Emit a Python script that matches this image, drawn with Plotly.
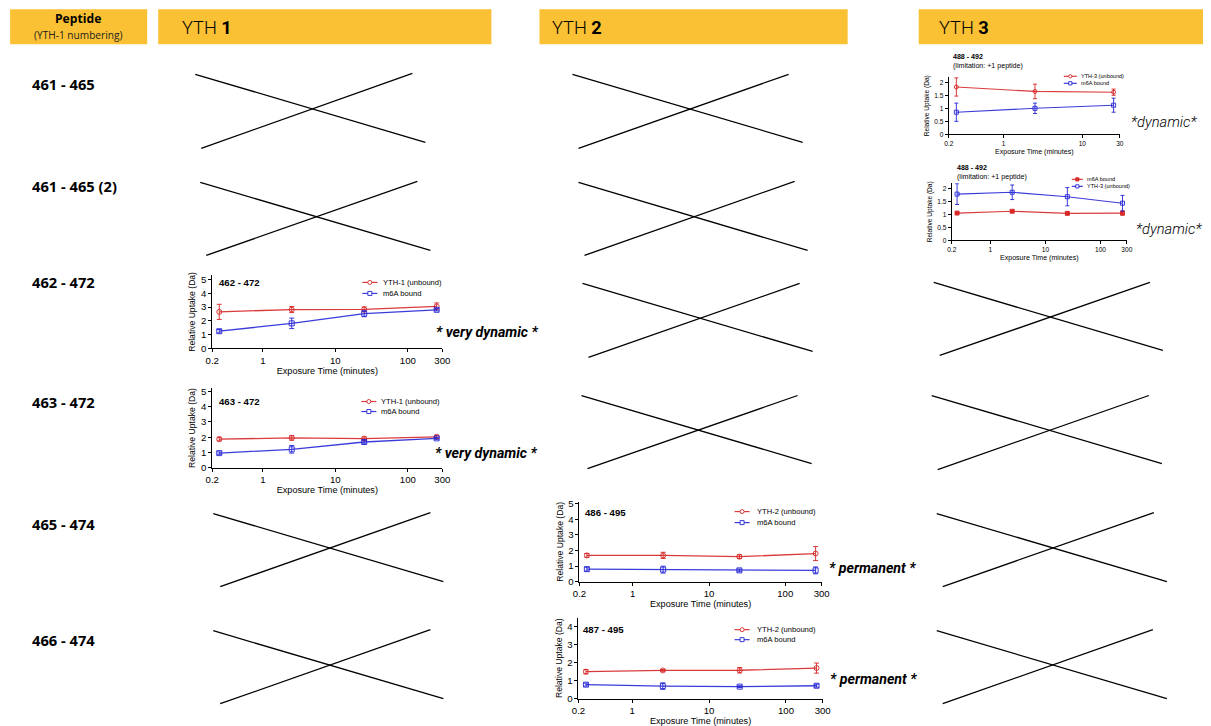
import math
import plotly.graph_objects as go

W, H = 1211, 726

# Layout positions below are given in final image pixels; the page is shown
# with an 8px body margin and scaled to the window width, so positions are
# converted into figure pixels with the same scale and offset.
SCALE = 1211 / 1227
BODY = 8
CROP_Y = 3.15

# ---------------- data ----------------
columns = ["YTH <b>1</b>", "YTH <b>2</b>", "YTH <b>3</b>"]
peptides = ["461 - 465", "461 - 465 (2)", "462 - 472", "463 - 472", "465 - 474", "466 - 474"]

times = [0.25, 2.5, 25, 250]
times_short = [0.25, 2.5, 25]

# YTH1 462-472
y1_462_unbound = [2.65, 2.82, 2.83, 3.05]
y1_462_unbound_sd = [0.55, 0.22, 0.18, 0.25]
y1_462_bound = [1.25, 1.82, 2.52, 2.80]
y1_462_bound_sd = [0.12, 0.38, 0.22, 0.08]

# YTH1 463-472
y1_463_unbound = [1.87, 1.95, 1.90, 2.02]
y1_463_unbound_sd = [0.12, 0.15, 0.12, 0.10]
y1_463_bound = [0.95, 1.20, 1.68, 1.92]
y1_463_bound_sd = [0.08, 0.25, 0.12, 0.06]

# YTH2 486-495
y2_486_unbound = [1.68, 1.68, 1.60, 1.80]
y2_486_unbound_sd = [0.12, 0.20, 0.12, 0.45]
y2_486_bound = [0.80, 0.77, 0.72, 0.72]
y2_486_bound_sd = [0.12, 0.22, 0.08, 0.22]

# YTH2 487-495
y2_487_unbound = [1.50, 1.57, 1.58, 1.70]
y2_487_unbound_sd = [0.12, 0.05, 0.15, 0.28]
y2_487_bound = [0.78, 0.70, 0.67, 0.72]
y2_487_bound_sd = [0.08, 0.18, 0.05, 0.08]

# YTH3 488-492 (first set, 3 time points)
y3_488a_unbound = [1.82, 1.65, 1.62]
y3_488a_unbound_sd = [0.35, 0.28, 0.12]
y3_488a_bound = [0.85, 1.00, 1.12]
y3_488a_bound_sd = [0.35, 0.20, 0.27]

# YTH3 488-492 (second set)
y3_488b_bound = [1.05, 1.12, 1.04, 1.05]
y3_488b_bound_sd = [0.02, 0.04, 0.05, 0.08]
y3_488b_unbound = [1.78, 1.85, 1.68, 1.43]
y3_488b_unbound_sd = [0.40, 0.28, 0.35, 0.30]

statuses = ["* very dynamic *", "* very dynamic *", "* permanent *", "* permanent *", "*dynamic*", "*dynamic*"]

# ---------------- helpers ----------------
def px(x):
    return min(max((x / SCALE - BODY) / W, 0), 1)


def py(y):
    return min(max(1 - ((y + CROP_Y) / SCALE - BODY) / H, 0), 1)


def fs(v):
    return v / SCALE


def note(text, x, y, size, family, xanchor="left", weight=None, color="black"):
    font = dict(family=family, size=fs(size), color=color)
    if weight is not None:
        font["weight"] = weight
    return dict(text=text, x=px(x), y=py(y), xref="paper", yref="paper",
                xanchor=xanchor, yanchor="middle", showarrow=False, font=font)


RED = "rgba(214,38,38,0.9)"
BLUE = "rgba(38,38,214,0.9)"
TXT = "Liberation Sans, Arial, sans-serif"
ROBO = "Roboto, Arial, sans-serif"
HEAD = "Open Sans, Arial, sans-serif"
YELLOW = "#FBC134"

fig = go.Figure()
shapes = []
annotations = []

# ---------------- header boxes ----------------
header_boxes = [(11, 148), (159, 492), (540, 848), (919, 1211)]
for x0, x1 in header_boxes:
    shapes.append(dict(type="rect", xref="paper", yref="paper",
                       x0=px(x0), x1=px(x1), y0=py(45), y1=py(10),
                       fillcolor=YELLOW, line=dict(width=0), layer="below"))

annotations.append(note("<b>Peptide</b>", 79, 19, 12, HEAD, xanchor="center"))
annotations.append(note("(YTH-1 numbering)", 79, 36, 10, HEAD, xanchor="center", color="#222"))
for label, x0 in zip(columns, [181, 551, 937]):
    annotations.append(note(label, x0, 28, 18, ROBO, weight=300))

# ---------------- row labels ----------------
for label, yy in zip(peptides, [85, 187, 283, 402, 524, 640]):
    annotations.append(note(f"<b>{label}</b>", 31, yy, 14.5, HEAD))

# ---------------- crossed-out cells ----------------
crosses = [
    ((196, 75, 426, 143), (202, 149, 413, 74)),
    ((201, 183, 431, 251), (207, 256, 418, 182)),
    ((214, 514, 444, 582), (221, 587, 431, 513)),
    ((214, 631, 444, 699), (221, 704, 431, 630)),
    ((573, 75, 803, 143), (579, 149, 789, 75)),
    ((579, 183, 808, 251), (585, 256, 795, 182)),
    ((583, 284, 813, 352), (589, 358, 800, 284)),
    ((582, 396, 812, 464), (588, 469, 798, 396)),
    ((934, 283, 1163, 351), (940, 356, 1150, 283)),
    ((932, 396, 1162, 464), (938, 470, 1149, 396)),
    ((937, 514, 1167, 582), (943, 587, 1154, 513)),
    ((937, 631, 1167, 699), (943, 704, 1153, 630)),
]
for pair in crosses:
    for (x0, y0, x1, y1) in pair:
        shapes.append(dict(type="line", xref="paper", yref="paper",
                           x0=px(x0), y0=py(y0), x1=px(x1), y1=py(y1),
                           line=dict(color="black", width=1.3)))

# ---------------- uptake panels ----------------
panels = [
    dict(title=["462 - 472"], t_xy=(218, 283),
         series=[("YTH-1 (unbound)", times, y1_462_unbound, y1_462_unbound_sd, RED, "circle-open"),
                 ("m6A bound", times, y1_462_bound, y1_462_bound_sd, BLUE, "square-open")],
         dx=(213, 443), y0px=349, upx=13.8, ymax=5.3, dtick=1, xmax=300,
         xt=[0.2, 1, 10, 100, 300], tick=9.5, ttl=8.5, leg=(363, 378, 382, [283, 294]), lfs=7.5,
         status=(488, 333), sfs=14, bold=True),
    dict(title=["463 - 472"], t_xy=(218, 402),
         series=[("YTH-1 (unbound)", times, y1_463_unbound, y1_463_unbound_sd, RED, "circle-open"),
                 ("m6A bound", times, y1_463_bound, y1_463_bound_sd, BLUE, "square-open")],
         dx=(213, 443), y0px=468, upx=15.2, ymax=5.2, dtick=1, xmax=300,
         xt=[0.2, 1, 10, 100, 300], tick=9.5, ttl=8.5, leg=(362, 377, 380, [402, 412]), lfs=7.5,
         status=(487, 453), sfs=14, bold=True),
    dict(title=["486 - 495"], t_xy=(584, 513),
         series=[("YTH-2 (unbound)", times, y2_486_unbound, y2_486_unbound_sd, RED, "circle-open"),
                 ("m6A bound", times, y2_486_bound, y2_486_bound_sd, BLUE, "square-open")],
         dx=(580, 822), y0px=582, upx=15.6, ymax=5.1, dtick=1, xmax=300,
         xt=[0.2, 1, 10, 100, 300], tick=9.5, ttl=8.5, leg=(735, 750, 755, [512, 523]), lfs=7.5,
         status=(873, 568), sfs=14, bold=True),
    dict(title=["487 - 495"], t_xy=(582, 630),
         series=[("YTH-2 (unbound)", times, y2_487_unbound, y2_487_unbound_sd, RED, "circle-open"),
                 ("m6A bound", times, y2_487_bound, y2_487_bound_sd, BLUE, "square-open")],
         dx=(579, 823), y0px=699, upx=18.0, ymax=4.5, dtick=1, xmax=300,
         xt=[0.2, 1, 10, 100, 300], tick=9.5, ttl=8.5, leg=(735, 750, 755, [630, 640]), lfs=7.5,
         status=(874, 679), sfs=14, bold=True),
    dict(title=["488 - 492", "(limitation: +1 peptide)"], t_xy=(951, 58),
         series=[("YTH-3 (unbound)", times_short, y3_488a_unbound, y3_488a_unbound_sd, RED, "circle-open"),
                 ("m6A bound", times_short, y3_488a_bound, y3_488a_bound_sd, BLUE, "square-open")],
         dx=(949, 1120), y0px=135, upx=26.0, ymax=2.2, dtick=0.5, xmax=30,
         xt=[0.2, 1, 10, 30], tick=6.5, ttl=6.5, leg=(1064, 1077, 1079, [77, 84]), lfs=5.5,
         status=(1164, 123), sfs=14.5, bold=False),
    dict(title=["488 - 492", "(limitation: +1 peptide)"], t_xy=(955, 169),
         series=[("m6A bound", times, y3_488b_bound, y3_488b_bound_sd, RED, "square"),
                 ("YTH-3 (unbound)", times, y3_488b_unbound, y3_488b_unbound_sd, BLUE, "square-open")],
         dx=(952, 1127), y0px=241, upx=26.0, ymax=2.2, dtick=0.5, xmax=300,
         xt=[0.2, 1, 10, 100, 300], tick=6.5, ttl=6.5, leg=(1072, 1083, 1085, [180, 187]), lfs=5.5,
         status=(1169, 230), sfs=14.5, bold=False),
]

for i, p in enumerate(panels, start=1):
    xa = "x" if i == 1 else f"x{i}"
    ya = "y" if i == 1 else f"y{i}"
    small = p["tick"] < 8
    msize = 4 if small else 5
    for name, t, vals, sd, color, sym in p["series"]:
        fig.add_trace(go.Scatter(
            x=t, y=vals, name=name, xaxis=xa, yaxis=ya, mode="lines+markers",
            line=dict(color=color, width=1.3 if not small else 1.1),
            marker=dict(symbol=sym, size=msize, color=color, line=dict(width=1, color=color)),
            error_y=dict(type="data", array=sd, visible=True, color=color,
                         thickness=1, width=2 if small else 2.5),
            showlegend=False, hoverinfo="skip"))

    top_px = p["y0px"] - p["ymax"] * p["upx"]
    common_line = dict(showline=True, linecolor="black", linewidth=1, ticks="outside",
                       ticklen=3, tickwidth=1, tickcolor="black", showgrid=False, zeroline=False)
    xkey = "xaxis" if i == 1 else f"xaxis{i}"
    ykey = "yaxis" if i == 1 else f"yaxis{i}"
    fig.update_layout(**{
        xkey: dict(type="log", domain=[px(p["dx"][0]), px(p["dx"][1])],
                   range=[math.log10(0.2), math.log10(p["xmax"])],
                   tickvals=p["xt"], ticktext=[str(v) for v in p["xt"]],
                   tickfont=dict(family=TXT, size=fs(p["tick"]), color="black"),
                   title=dict(text="Exposure Time (minutes)", standoff=2,
                              font=dict(family=TXT, size=fs(p["ttl"] + 0.5), color="black")),
                   anchor=ya, **common_line),
        ykey: dict(domain=[py(p["y0px"]), py(top_px)], range=[0, p["ymax"]], dtick=p["dtick"],
                   tickfont=dict(family=TXT, size=fs(p["tick"]), color="black"),
                   title=dict(text="Relative Uptake (Da)", standoff=3,
                              font=dict(family=TXT, size=fs(p["ttl"]), color="black")),
                   anchor=xa, **common_line),
    })

    # panel title
    tx, ty = p["t_xy"]
    fs_title = p["lfs"] + 1.5 if small else 9.5
    for k, line_txt in enumerate(p["title"]):
        txt = f"<b>{line_txt}</b>" if k == 0 else line_txt
        annotations.append(note(txt, tx, ty + k * 9, fs_title, TXT))

    # legend drawn as key line + symbol + label
    lx0, lx1, ltx, lys = p["leg"]
    for (name, t, vals, sd, color, sym), ly in zip(p["series"], lys):
        shapes.append(dict(type="line", xref="paper", yref="paper",
                           x0=px(lx0), x1=px(lx1), y0=py(ly), y1=py(ly),
                           line=dict(color=color, width=1.2)))
        cx = (lx0 + lx1) / 2
        r = 1.6 if small else 2
        shp = "circle" if sym.startswith("circle") else "rect"
        shapes.append(dict(type=shp, xref="paper", yref="paper",
                           x0=px(cx - r), x1=px(cx + r), y0=py(ly + r), y1=py(ly - r),
                           line=dict(color=color, width=1),
                           fillcolor="white" if sym.endswith("open") else color))
        annotations.append(note(name, ltx, ly, p["lfs"], TXT))

    # status note
    sx, sy = p["status"]
    txt = statuses[i - 1]
    if p["bold"]:
        annotations.append(note(f"<b><i>{txt}</i></b>", sx, sy, p["sfs"], ROBO, xanchor="center"))
    else:
        annotations.append(note(f"<i>{txt}</i>", sx, sy, p["sfs"], ROBO, xanchor="center", weight=300))

fig.update_layout(
    width=W, height=H, margin=dict(l=0, r=0, t=0, b=0),
    paper_bgcolor="white", plot_bgcolor="rgba(0,0,0,0)",
    showlegend=False, shapes=shapes, annotations=annotations,
)

fig.write_html("out.html")
